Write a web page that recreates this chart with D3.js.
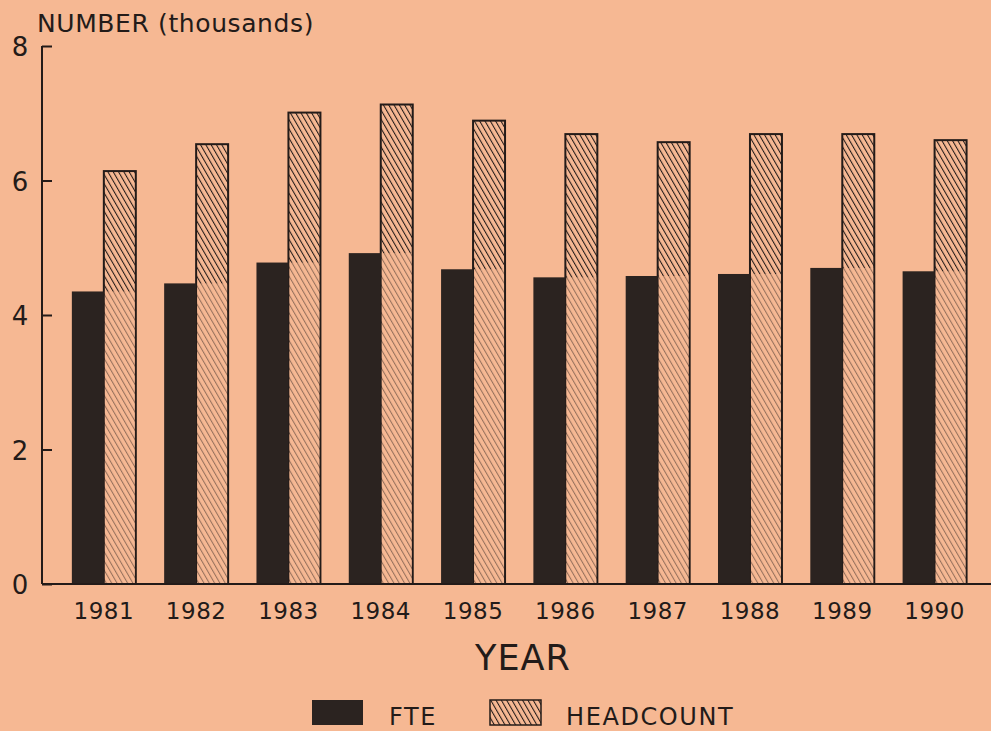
<!DOCTYPE html>
<html>
<head>
<meta charset="utf-8">
<script src="https://cdn.jsdelivr.net/npm/d3@7"></script>
<style>
  html, body { margin: 0; padding: 0; background: #f6b893; }
  svg { display: block; font-family: "DejaVu Sans", sans-serif; }
</style>
</head>
<body>
<svg id="chart" width="991" height="731"></svg>
<script>
var years = ["1981", "1982", "1983", "1984", "1985", "1986", "1987", "1988", "1989", "1990"];
var fte = [4.35, 4.47, 4.78, 4.92, 4.68, 4.56, 4.58, 4.61, 4.70, 4.65];
var headcount = [6.14, 6.54, 7.01, 7.13, 6.89, 6.69, 6.57, 6.69, 6.69, 6.60];
var yTicks = [0, 2, 4, 6, 8];

var ink = "#231b19";
var bg = "#f6b893";
var svg = d3.select("#chart");

var defs = svg.append("defs");
var hatch = defs.append("pattern")
  .attr("id", "hatch")
  .attr("patternUnits", "userSpaceOnUse")
  .attr("width", 4.6).attr("height", 4.6)
  .attr("patternTransform", "rotate(-30)");
hatch.append("line")
  .attr("x1", 0).attr("y1", 0).attr("x2", 0).attr("y2", 4.6)
  .attr("stroke", ink).attr("stroke-width", 2.1);

var x = d3.scaleBand()
  .domain(years)
  .range([42, 991])
  .paddingInner(0.307)
  .paddingOuter(0.294)
  .align(0.55);

var sub = d3.scaleBand()
  .domain(["fte", "hc"])
  .range([0, x.bandwidth()]);

var y = d3.scaleLinear().domain([0, 8]).range([584, 46]);

// bars
var groups = svg.append("g").selectAll("g")
  .data(years)
  .join("g")
  .attr("transform", function(d) { return "translate(" + x(d) + ",0)"; });

groups.append("rect")
  .attr("x", sub("hc"))
  .attr("y", function(d, i) { return y(headcount[i]); })
  .attr("width", sub.bandwidth())
  .attr("height", function(d, i) { return y(0) - y(headcount[i]); })
  .attr("fill", "url(#hatch)")
  .attr("stroke", ink)
  .attr("stroke-width", 2);

// faded lower part of the hatched bars (as in the print)
groups.append("rect")
  .attr("x", sub("hc") + 1)
  .attr("y", function(d, i) { return y(fte[i]); })
  .attr("width", sub.bandwidth() - 2)
  .attr("height", function(d, i) { return y(0) - y(fte[i]); })
  .attr("fill", bg)
  .attr("opacity", 0.55);

groups.append("rect")
  .attr("x", sub("fte"))
  .attr("y", function(d, i) { return y(fte[i]); })
  .attr("width", sub.bandwidth())
  .attr("height", function(d, i) { return y(0) - y(fte[i]); })
  .attr("fill", "#2b2320");

// axes
var yAxis = svg.append("g")
  .attr("transform", "translate(42,0)")
  .call(d3.axisRight(y).tickValues(yTicks).tickSize(10).tickFormat(""));
yAxis.select(".domain").remove();
yAxis.selectAll(".tick line").attr("stroke", ink).attr("stroke-width", 2);
svg.append("line")
  .attr("x1", 42).attr("x2", 42).attr("y1", y(8)).attr("y2", y(0))
  .attr("stroke", ink).attr("stroke-width", 2);
svg.append("line")
  .attr("x1", 42).attr("x2", 991).attr("y1", y(0)).attr("y2", y(0))
  .attr("stroke", ink).attr("stroke-width", 2);

svg.append("g").selectAll("text")
  .data(yTicks)
  .join("text")
  .attr("x", 20)
  .attr("y", function(d) { return y(d) + 10; })
  .attr("text-anchor", "middle")
  .attr("font-size", 26)
  .attr("fill", ink)
  .text(function(d) { return d; });

svg.append("g").selectAll("text")
  .data(years)
  .join("text")
  .attr("x", function(d) { return x(d) + x.bandwidth() / 2; })
  .attr("y", 619)
  .attr("text-anchor", "middle")
  .attr("font-size", 23)
  .attr("letter-spacing", 0.5)
  .attr("fill", ink)
  .text(function(d) { return d; });

svg.append("text")
  .attr("x", 37).attr("y", 32)
  .attr("font-size", 25)
  .attr("letter-spacing", 0.6)
  .attr("fill", ink)
  .text("NUMBER (thousands)");

svg.append("text")
  .attr("x", 523).attr("y", 670)
  .attr("text-anchor", "middle")
  .attr("font-size", 35)
  .attr("letter-spacing", 1)
  .attr("fill", ink)
  .text("YEAR");

// legend
var legend = [
  { label: "FTE", fill: "#2b2320", x: 312 },
  { label: "HEADCOUNT", fill: "url(#hatch)", x: 490 }
];
var lg = svg.append("g").selectAll("g")
  .data(legend)
  .join("g")
  .attr("transform", function(d) { return "translate(" + d.x + ",700)"; });
lg.append("rect")
  .attr("width", 51).attr("height", 25)
  .attr("fill", function(d) { return d.fill; })
  .attr("stroke", ink)
  .attr("stroke-width", function(d, i) { return i ? 1.5 : 0; });
lg.append("text")
  .attr("x", function(d, i) { return i ? 76 : 77; })
  .attr("y", 25)
  .attr("font-size", 24)
  .attr("letter-spacing", 1.6)
  .attr("fill", ink)
  .text(function(d) { return d.label; });
</script>
</body>
</html>
